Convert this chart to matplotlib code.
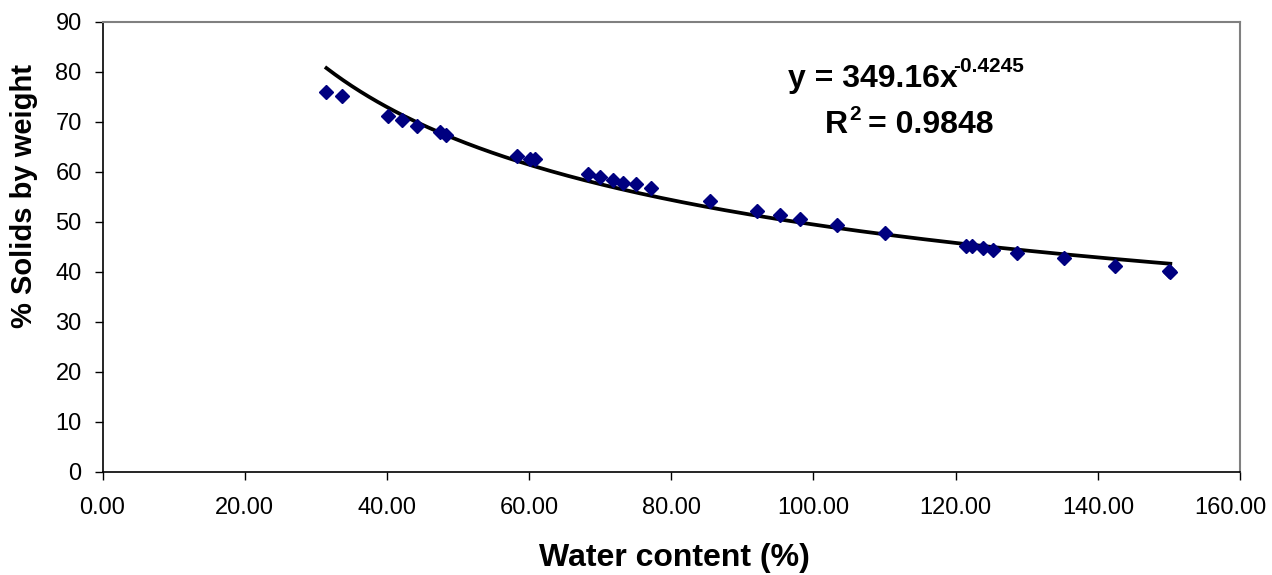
import matplotlib
matplotlib.use("Agg")
import matplotlib.pyplot as plt
from matplotlib.transforms import ScaledTranslation
import numpy as np

plt.rcParams['font.family'] = ['Liberation Sans', 'DejaVu Sans']

# measured samples: water content (%) vs solids by weight (%)
water_content = [31.5, 33.7, 40.2, 42.1, 44.2, 47.5, 48.3, 58.3, 60.1, 60.8,
                 68.3, 70.0, 71.8, 73.2, 75.1, 77.2, 85.4, 92.1, 95.3, 98.1,
                 103.3, 110.1, 121.5, 122.3, 123.9, 125.3, 128.6, 135.2,
                 142.4, 150.0, 150.2]
solids = [75.9, 75.1, 71.2, 70.3, 69.2, 68.0, 67.3, 63.2, 62.5, 62.5,
          59.5, 59.0, 58.3, 57.8, 57.5, 56.8, 54.1, 52.1, 51.3, 50.5,
          49.3, 47.8, 45.1, 45.1, 44.7, 44.3, 43.8, 42.7,
          41.2, 40.2, 40.0]

# power-law trendline y = a * x^b
fit_a = 349.16
fit_b = -0.4245
fit_r2 = 0.9848

x_ticks = [0, 20, 40, 60, 80, 100, 120, 140, 160]
y_ticks = [0, 10, 20, 30, 40, 50, 60, 70, 80, 90]

fig = plt.figure(figsize=(12.72, 5.75), dpi=100)
ax = fig.add_axes([102.5 / 1272, 1 - 471.7 / 575,
                   (1240 - 102.5) / 1272, (471.7 - 21.7) / 575])

ax.plot(water_content, solids, linestyle='none', marker='D', markersize=7.5,
        color='#000080', zorder=3)

xf = np.linspace(min(water_content), max(water_content), 200)
ax.plot(xf, fit_a * xf ** fit_b, color='black', linewidth=2.7, zorder=2)

ax.set_xlim(0, 160)
ax.set_ylim(0, 90)
ax.set_xticks(x_ticks)
ax.set_xticklabels([f"{t:.2f}" for t in x_ticks])
ax.set_yticks(y_ticks)
ax.tick_params(axis='both', direction='out', length=6, width=1,
               labelsize=17, colors='black')
ax.tick_params(axis='x', pad=12)
ax.tick_params(axis='y', pad=9)

# keep the last x label inside the figure
last = ax.get_xticklabels()[-1]
last.set_transform(last.get_transform() +
                   ScaledTranslation(-0.10, 0, fig.dpi_scale_trans))

for side in ('left', 'bottom'):
    ax.spines[side].set_color('black')
    ax.spines[side].set_linewidth(1.2)
for side in ('top', 'right'):
    ax.spines[side].set_color('#808080')
    ax.spines[side].set_linewidth(1.5)

# trendline equation, written with separate superscripts
ax.text(120.3, 77.0, f'y = {fit_a}x', fontsize=23, fontweight='bold',
        ha='right', va='baseline')
ax.text(119.6, 79.9, f'{fit_b}', fontsize=15, fontweight='bold',
        ha='left', va='baseline')
ax.text(101.6, 67.7, 'R', fontsize=23, fontweight='bold',
        ha='left', va='baseline')
ax.text(105.0, 70.3, '2', fontsize=15, fontweight='bold',
        ha='left', va='baseline')
ax.text(125.3, 67.7, f'= {fit_r2}', fontsize=23, fontweight='bold',
        ha='right', va='baseline')

fig.text(674 / 1272, 1 - 566 / 575, 'Water content (%)', fontsize=23,
         fontweight='bold', ha='center', va='baseline')
fig.text(24 / 1272, 1 - 196 / 575, '% Solids by weight', fontsize=21,
         fontweight='bold', ha='center', va='center', rotation=90)

fig.savefig('out.png', dpi=100, facecolor='white')
